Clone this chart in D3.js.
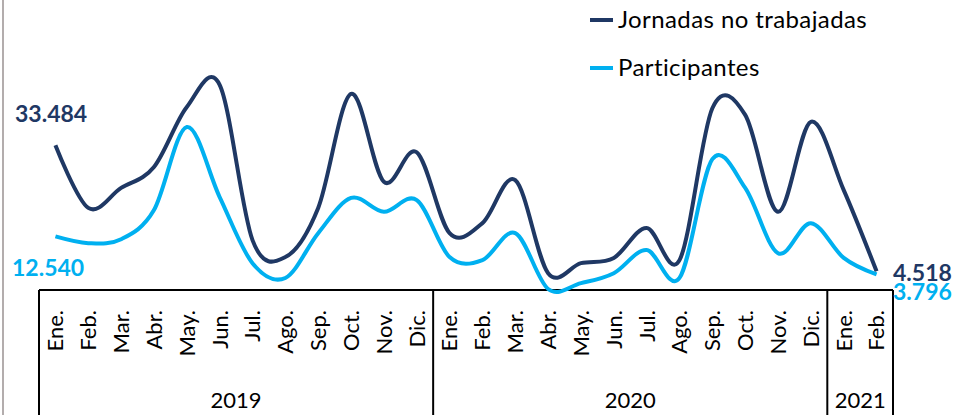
<!DOCTYPE html>
<html>
<head>
<meta charset="utf-8">
<script src="https://cdn.jsdelivr.net/npm/d3@7"></script>
<style>
  body { margin: 0; background: #fff; }
  svg { display: block; font-family: Lato, "Open Sans", sans-serif; }
</style>
</head>
<body>
<svg class="huelgas-ch"></svg>
<script>
"use strict";

var months = ['Ene.','Feb.','Mar.','Abr.','May.','Jun.','Jul.','Ago.','Sep.','Oct.','Nov.','Dic.',
  'Ene.','Feb.','Mar.','Abr.','May.','Jun.','Jul.','Ago.','Sep.','Oct.','Nov.','Dic.',
  'Ene.','Feb.'];
var years = ['2019','2020','2021'];
var yearMonths = [12, 12, 2];

var jornadas = [33484,19100,23700,28500,42300,47400,11700,7800,19100,45300,25100,31900,
  13300,15600,25500,4100,6400,7600,14500,7100,42000,40500,18200,38900,23200,4518];
var participantes = [12540,11000,11900,18600,37700,21600,6400,3000,13300,21400,18200,20900,
  7800,7100,13300,460,1800,4100,9400,3000,30300,23700,8700,15600,7600,3796];

var seriesNames = ['Jornadas no trabajadas','Participantes'];
var seriesColors = ['#1f3864','#00b0f0'];

var svg = d3.select('.huelgas-ch')
  .attr('width',953)
  .attr('height',415);

var x = d3.scaleBand()
  .range([39,893])
  .domain(months.map(function(d,i){return i}));

var y = d3.scaleLinear()
  .range([291,30])
  .domain([0,60000]);

// left border of the chart area
svg.append('line')
  .attr('x1',3).attr('x2',3).attr('y1',0).attr('y2',415)
  .style('stroke','#b3adad').style('stroke-width',2);

// month labels
var xAxis = d3.axisBottom(x)
  .tickSize(0)
  .tickFormat(function(i){return months[i]});

svg.append('g')
  .attr('class','x-axis')
  .attr('transform','translate(0,290)')
  .call(xAxis);

svg.select('.x-axis .domain').remove();

svg.selectAll('.x-axis text')
  .attr('transform','rotate(-90)')
  .attr('x',-20)
  .attr('y',0)
  .attr('dy','0.36em')
  .attr('text-anchor','end')
  .style('font-family','Lato, "Open Sans", sans-serif')
  .style('font-size','22px')
  .style('fill','#000');

// year boxes
var bounds = [0];
yearMonths.forEach(function(n,i){ bounds.push(bounds[i] + n); });

var axisG = svg.append('g');

axisG.append('line')
  .attr('x1',x(0)).attr('x2',x(months.length-1) + x.bandwidth())
  .attr('y1',290).attr('y2',290)
  .style('stroke','#000').style('stroke-width',2);

axisG.selectAll('.sep')
  .data(bounds)
  .enter().append('line')
    .attr('x1',function(b){return b < months.length ? x(b) : x(b-1) + x.bandwidth()})
    .attr('x2',function(b){return b < months.length ? x(b) : x(b-1) + x.bandwidth()})
    .attr('y1',290).attr('y2',415)
    .style('stroke','#000').style('stroke-width',2);

axisG.selectAll('.year')
  .data(years)
  .enter().append('text')
    .attr('x',function(d,i){
      var a = x(bounds[i]);
      var b = x(bounds[i+1]-1) + x.bandwidth();
      return (a+b)/2;
    })
    .attr('y',408)
    .attr('text-anchor','middle')
    .style('font-size','22px')
    .style('fill','#000')
    .text(function(d){return d});

// lines
var line = d3.line()
  .x(function(d,i){return x(i) + x.bandwidth()/2})
  .y(function(d){return y(d)})
  .curve(d3.curveCardinal.tension(0));

[jornadas, participantes].forEach(function(s,k){
  svg.append('path')
    .datum(s)
    .attr('d',line)
    .style('fill','none')
    .style('stroke',seriesColors[k])
    .style('stroke-width',4)
    .style('stroke-linejoin','round');
});

// value labels
var lab = svg.append('g')
  .style('font-weight','bold')
  .style('font-size','23px');

var fmt = d3.formatLocale({decimal:',',thousands:'.',grouping:[3],currency:['','']}).format(',');
var last = months.length - 1;

lab.append('text')
  .attr('x',15).attr('y',y(jornadas[0]) - 23)
  .style('fill',seriesColors[0])
  .text(fmt(jornadas[0]));

lab.append('text')
  .attr('x',12).attr('y',y(participantes[0]) + 40)
  .style('fill',seriesColors[1])
  .text(fmt(participantes[0]));

lab.append('text')
  .attr('x',893).attr('y',y(jornadas[last]) + 10)
  .style('fill',seriesColors[0])
  .text(fmt(jornadas[last]));

lab.append('text')
  .attr('x',893).attr('y',y(participantes[last]) + 26)
  .style('fill',seriesColors[1])
  .text(fmt(participantes[last]));

// legend
var legend = svg.append('g').selectAll('.leg')
  .data(seriesNames)
  .enter().append('g')
    .attr('transform',function(d,i){return 'translate(590,'+(20 + i*48)+')'});

legend.append('line')
  .attr('x1',0).attr('x2',23).attr('y1',0).attr('y2',0)
  .style('stroke',function(d,i){return seriesColors[i]})
  .style('stroke-width',4);

legend.append('text')
  .attr('x',28).attr('y',8)
  .style('font-size','24px')
  .style('letter-spacing','0.4px')
  .style('fill','#000')
  .text(function(d){return d});
</script>
</body>
</html>
